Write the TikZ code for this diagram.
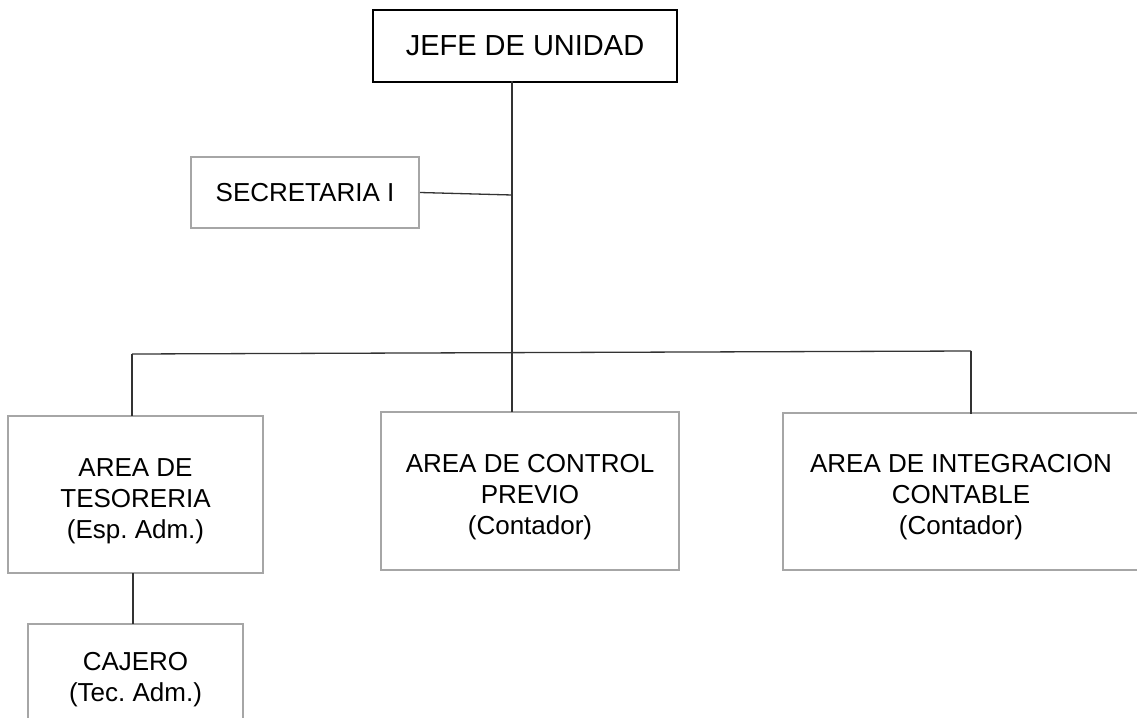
\documentclass[tikz,border=0pt]{standalone}
\usepackage{fontspec}
\setmainfont{Liberation Sans}
\frenchspacing
\definecolor{boxgray}{HTML}{A6A6A6}
\definecolor{linegray}{HTML}{333333}
\newcommand{\lowerby}[1]{\rule{0pt}{#1}}
\tikzset{
  graybox/.style={draw=boxgray, line width=2pt, inner sep=0pt, align=center,
    font=\fontsize{26}{31}\selectfont},
  bossbox/.style={draw=black, line width=2.6pt, inner sep=0pt, align=center,
    font=\fontsize{29}{34}\selectfont},
  conn/.style={draw=linegray, line width=1.3pt}
}
\begin{document}
\begin{tikzpicture}[x=1pt,y=-1pt]
\useasboundingbox (0,0) rectangle (1137,717);
\fill[white] (0,0) rectangle (1137,717);
\begin{scope}
\clip (0,0) rectangle (1137,717);
\node[bossbox, minimum width=304pt, minimum height=72pt] (jefe) at (525,46) {JEFE DE UNIDAD};
\node[graybox, minimum width=228pt, minimum height=71pt] (sec) at (305,192.5) {SECRETARIA I};
\node[graybox, minimum width=255pt, minimum height=157pt] (tes) at (135.5,494.5) {\lowerby{31pt}AREA DE\\TESORERIA\\(Esp. Adm.)};
\node[graybox, minimum width=298pt, minimum height=158pt] (ctrl) at (530,491) {\lowerby{30pt}AREA DE CONTROL\\PREVIO\\(Contador)};
\node[graybox, minimum width=356pt, minimum height=157pt] (integ) at (961,491.5) {\lowerby{30pt}AREA DE INTEGRACION\\CONTABLE\\(Contador)};
\node[graybox, minimum width=215pt, minimum height=104pt] (caj) at (135.5,676) {\lowerby{25pt}CAJERO\\(Tec. Adm.)};
\end{scope}
\coordinate (jb) at (512,81);
\coordinate (sj) at (512,195);
\coordinate (ct) at (512,412);
\coordinate (hl) at (132,354);
\coordinate (hr) at (971,351);
\coordinate (tt) at (132,416);
\coordinate (it) at (971,414);
\coordinate (tb) at (133,573);
\coordinate (cj) at (133,624);
\draw[conn] (jb) -- (ct);
\draw[conn] (sec.east) -- (sj);
\draw[conn] (hl) -- (hr);
\draw[conn] (hl) -- (tt);
\draw[conn] (hr) -- (it);
\draw[conn] (tb) -- (cj);
\end{tikzpicture}
\end{document}
